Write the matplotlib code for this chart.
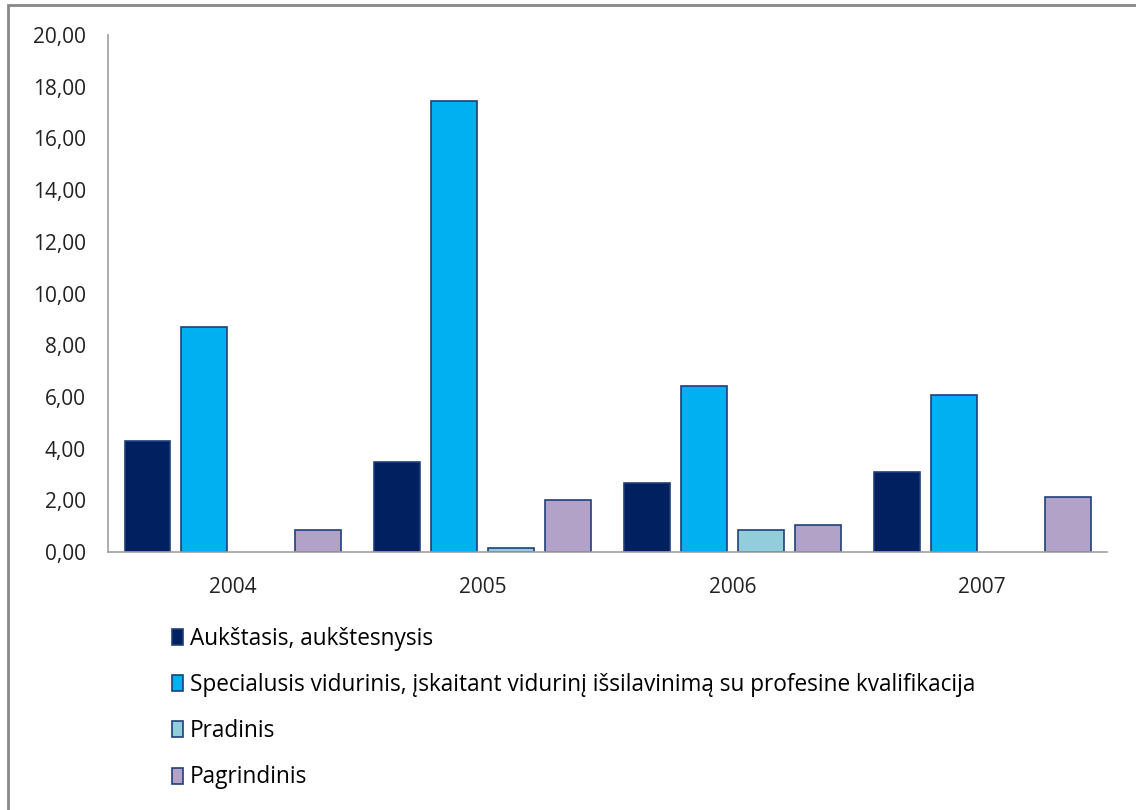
import numpy as np
import matplotlib.pyplot as plt
from matplotlib.patches import Rectangle

years = ["2004", "2005", "2006", "2007"]
series_names = [
    "Aukštasis, aukštesnysis",
    "Specialusis vidurinis, įskaitant vidurinį išsilavinimą su profesine kvalifikacija",
    "Pradinis",
    "Pagrindinis",
]
aukstasis = [4.29, 3.48, 2.67, 3.09]
specialusis = [8.70, 17.45, 6.42, 6.07]
pradinis = [0.0, 0.15, 0.85, 0.0]
pagrindinis = [0.85, 2.01, 1.04, 2.13]
y_ticks = [0, 2, 4, 6, 8, 10, 12, 14, 16, 18, 20]

colors = ["#002060", "#00B0F0", "#92CDDC", "#B2A2C7"]
edge = "#1F3F7A"

plt.rcParams["font.family"] = ["Open Sans", "DejaVu Sans"]

fig = plt.figure(figsize=(11.36, 8.10), dpi=100)
ax = fig.add_axes([0.0951, 0.3185, 0.8794, 0.6383])

x = np.arange(len(years))
width = 0.184
step = 0.228
for i, (vals, name) in enumerate(zip([aukstasis, specialusis, pradinis, pagrindinis], series_names)):
    offs = (i - 1.5) * step
    v = np.array(vals, dtype=float)
    v[v == 0] = np.nan  # empty categories draw nothing in the original
    ax.bar(x + offs, v, width, color=colors[i], edgecolor=edge, linewidth=1.2, label=name)

ax.set_xlim(-0.5, len(years) - 0.5)
ax.set_ylim(0, 20)
ax.set_yticks(y_ticks)
ax.set_yticklabels([f"{t:.2f}".replace(".", ",") for t in y_ticks], fontsize=15, color="#222222")
ax.set_xticks(x)
ax.set_xticklabels(years, fontsize=15, color="#222222")
ax.tick_params(axis="y", length=0, pad=16)
ax.tick_params(axis="x", length=0, pad=18)
for s in ["top", "right"]:
    ax.spines[s].set_visible(False)
for s in ["left", "bottom"]:
    ax.spines[s].set_color("#A0A0A0")
    ax.spines[s].set_linewidth(1.2)

fig.legend(loc="upper left", bbox_to_anchor=(0.151, 0.226), frameon=False,
           fontsize=16.3, labelspacing=0.98, handlelength=0.52, handleheight=0.72,
           handletextpad=0.3, borderaxespad=0, borderpad=0)

fig.patches.append(Rectangle((8 / 1136, -0.01), 1.1, 1 - 5 / 810 + 0.01,
                             transform=fig.transFigure, fill=False,
                             edgecolor="#888888", linewidth=2))

fig.savefig("out.png", dpi=100)
